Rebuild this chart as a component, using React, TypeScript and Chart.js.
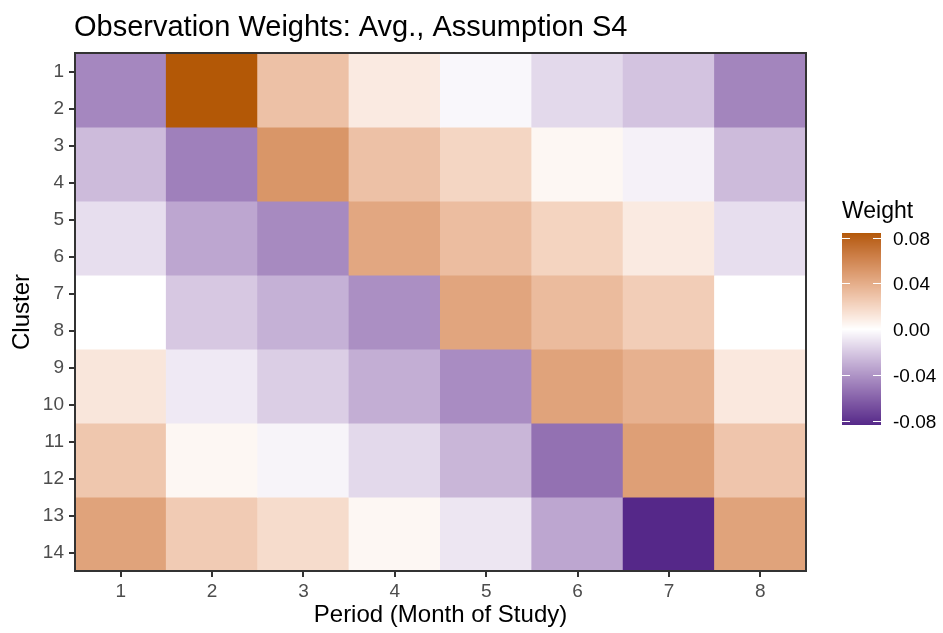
import React, { useEffect, useRef } from "react";
import { Chart, registerables } from "chart.js";

Chart.register(...registerables);

// ---------- data ----------
const titleText = "Observation Weights: Avg., Assumption S4";
const xTitle = "Period (Month of Study)";
const yTitle = "Cluster";
const legendTitle = "Weight";

const periods = ["1", "2", "3", "4", "5", "6", "7", "8"];
const clusterTicks = [1, 2, 3, 4, 5, 6, 7, 8, 9, 10, 11, 12, 13, 14];
const clusterPairs = [
  [1, 2],
  [3, 4],
  [5, 6],
  [7, 8],
  [9, 10],
  [11, 12],
  [13, 14],
];

const w_c01_02 = [-0.045, 0.084, 0.03, 0.01, -0.003, -0.014, -0.022, -0.046];
const w_c03_04 = [-0.025, -0.048, 0.052, 0.03, 0.02, 0.004, -0.005, -0.025];
const w_c05_06 = [-0.012, -0.033, -0.044, 0.043, 0.032, 0.021, 0.01, -0.012];
const w_c07_08 = [0.0, -0.02, -0.029, -0.042, 0.044, 0.033, 0.024, 0.0];
const w_c09_10 = [0.012, -0.008, -0.018, -0.03, -0.043, 0.045, 0.038, 0.011];
const w_c11_12 = [0.027, 0.004, -0.004, -0.014, -0.027, -0.054, 0.047, 0.028];
const w_c13_14 = [0.045, 0.025, 0.017, 0.004, -0.009, -0.033, -0.0835, 0.045];
const weightRows = [w_c01_02, w_c03_04, w_c05_06, w_c07_08, w_c09_10, w_c11_12, w_c13_14];

const legendTicks = [0.08, 0.04, 0.0, -0.04, -0.08];
const legendTickLabels = ["0.08", "0.04", "0.00", "-0.04", "-0.08"];

const lowColor = "#542788";
const midColor = "#ffffff";
const highColor = "#b35806";

// ---------- colour (Lab interpolation like ggplot2 gradient2) ----------
const FONT = '"Liberation Sans", Arial, Helvetica, sans-serif';
const Xn = 0.95047, Yn = 1.0, Zn = 1.08883;
function toLin(c: number) {
  c /= 255;
  return c <= 0.04045 ? c / 12.92 : Math.pow((c + 0.055) / 1.055, 2.4);
}
function fromLin(c: number) {
  const v = c <= 0.0031308 ? 12.92 * c : 1.055 * Math.pow(c, 1 / 2.4) - 0.055;
  return Math.round(Math.max(0, Math.min(1, v)) * 255);
}
function fl(t: number) {
  return t > 0.008856 ? Math.cbrt(t) : 7.787 * t + 16 / 116;
}
function finv(t: number) {
  return t > 0.206893 ? t * t * t : (t - 16 / 116) / 7.787;
}
function hexToLab(hex: string) {
  const r = toLin(parseInt(hex.slice(1, 3), 16));
  const g = toLin(parseInt(hex.slice(3, 5), 16));
  const b = toLin(parseInt(hex.slice(5, 7), 16));
  const X = 0.4124564 * r + 0.3575761 * g + 0.1804375 * b;
  const Y = 0.2126729 * r + 0.7151522 * g + 0.072175 * b;
  const Z = 0.0193339 * r + 0.119192 * g + 0.9503041 * b;
  const fx = fl(X / Xn), fy = fl(Y / Yn), fz = fl(Z / Zn);
  return [116 * fy - 16, 500 * (fx - fy), 200 * (fy - fz)];
}
function labToRgb(L: number, a: number, bb: number) {
  const fy = (L + 16) / 116;
  const fx = fy + a / 500;
  const fz = fy - bb / 200;
  const X = Xn * finv(fx), Y = Yn * finv(fy), Z = Zn * finv(fz);
  const r = 3.2404542 * X - 1.5371385 * Y - 0.4985314 * Z;
  const g = -0.969266 * X + 1.8760108 * Y + 0.041556 * Z;
  const b = 0.0556434 * X - 0.2040259 * Y + 1.0572252 * Z;
  return `rgb(${fromLin(r)},${fromLin(g)},${fromLin(b)})`;
}
const labLow = hexToLab(lowColor);
const labMid = hexToLab(midColor);
const labHigh = hexToLab(highColor);
const allVals = weightRows.flat();
const vMin = Math.min(...allVals);
const vMax = Math.max(...allVals);
const vLimit = Math.max(Math.abs(vMin), Math.abs(vMax));
function colorFor(v: number) {
  const t = Math.max(-1, Math.min(1, v / vLimit));
  const end = t >= 0 ? labHigh : labLow;
  const f = Math.abs(t);
  return labToRgb(
    labMid[0] + (end[0] - labMid[0]) * f,
    labMid[1] + (end[1] - labMid[1]) * f,
    labMid[2] + (end[2] - labMid[2]) * f
  );
}

// ---------- overlay plugin: panel border, title, colourbar legend ----------
const overlayPlugin = {
  id: "overlay",
  afterDraw(chart: any) {
    const ctx = chart.ctx as CanvasRenderingContext2D;
    const { left, top, right, bottom } = chart.chartArea;
    ctx.save();
    // panel border
    ctx.strokeStyle = "#333333";
    ctx.lineWidth = 2;
    ctx.strokeRect(left, top, right - left, bottom - top);

    // title
    ctx.fillStyle = "#000000";
    ctx.font = `29px ${FONT}`;
    ctx.textAlign = "left";
    ctx.textBaseline = "alphabetic";
    ctx.fillText(titleText, left - 1, 35.5);

    // legend
    const barLeft = right + 36;
    const barW = 39;
    const barTop = 233;
    const barBottom = 425;
    const yOf = (v: number) => barTop + ((vMax - v) / (vMax - vMin)) * (barBottom - barTop);
    for (let y = barTop; y < barBottom; y++) {
      const v = vMax - ((y + 0.5 - barTop) / (barBottom - barTop)) * (vMax - vMin);
      ctx.fillStyle = colorFor(v);
      ctx.fillRect(barLeft, y, barW, 1);
    }
    ctx.strokeStyle = "#ffffff";
    ctx.lineWidth = 1;
    ctx.fillStyle = "#000000";
    ctx.font = `19px ${FONT}`;
    ctx.textBaseline = "middle";
    legendTicks.forEach((v, i) => {
      const y = Math.round(yOf(v)) + 0.5;
      ctx.beginPath();
      ctx.moveTo(barLeft, y);
      ctx.lineTo(barLeft + 8, y);
      ctx.moveTo(barLeft + barW - 8, y);
      ctx.lineTo(barLeft + barW, y);
      ctx.stroke();
      ctx.fillText(legendTickLabels[i], barLeft + barW + 12, y + 1);
    });
    ctx.font = `23px ${FONT}`;
    ctx.textBaseline = "alphabetic";
    ctx.fillText(legendTitle, barLeft, 218);
    ctx.restore();
  },
};

export default function App() {
  const canvasRef = useRef<HTMLCanvasElement | null>(null);

  useEffect(() => {
    document.body.style.margin = "0";
    const canvas = canvasRef.current;
    if (!canvas) return;

    const datasets = clusterPairs.map((pair, gi) => ({
      label: `Clusters ${pair[0]}-${pair[1]}`,
      data: periods.map(() => [pair[0] - 0.5, pair[1] + 0.5]),
      backgroundColor: weightRows[gi].map((v) => colorFor(v)),
      borderWidth: 0,
      borderSkipped: false,
      barPercentage: 1,
      categoryPercentage: 1,
      grouped: false,
      inflateAmount: 0.5,
    }));

    const tickFont = { family: FONT, size: 19 };
    const chart = new Chart(canvas, {
      type: "bar",
      data: { labels: periods, datasets: datasets as any },
      options: {
        responsive: false,
        devicePixelRatio: 1,
        animation: false,
        layout: { padding: { left: 0, top: 53, right: 137, bottom: 0 } },
        plugins: {
          legend: { display: false },
          tooltip: { enabled: false },
          title: { display: false },
        },
        scales: {
          x: {
            type: "category",
            offset: true,
            grid: {
              offset: false,
              drawOnChartArea: false,
              tickLength: 6,
              color: "#333333",
              lineWidth: 2,
            },
            border: { display: false },
            ticks: { color: "#4d4d4d", font: tickFont, padding: 3 },
            title: {
              display: true,
              text: xTitle,
              color: "#000000",
              font: { family: FONT, size: 24 },
              padding: { top: 0, bottom: 3 },
            },
            afterFit: (s: any) => {
              s.height = 62;
            },
          },
          y: {
            type: "linear",
            reverse: true,
            min: 0.5,
            max: 14.5,
            afterBuildTicks: (s: any) => {
              s.ticks = clusterTicks.map((v) => ({ value: v }));
            },
            grid: {
              drawOnChartArea: false,
              tickLength: 6,
              color: "#333333",
              lineWidth: 2,
            },
            border: { display: false },
            ticks: {
              color: "#4d4d4d",
              font: tickFont,
              padding: 5,
              autoSkip: false,
              callback: (v: any) => String(v),
            },
            title: {
              display: true,
              text: yTitle,
              color: "#000000",
              font: { family: FONT, size: 24 },
              padding: { top: 8, bottom: 0 },
            },
            afterFit: (s: any) => {
              s.width = 75;
            },
          },
        },
      } as any,
      plugins: [overlayPlugin],
    });

    return () => {
      chart.destroy();
    };
  }, []);

  return (
    <div style={{ width: 943, height: 633 }}>
      <canvas ref={canvasRef} width={943} height={633} style={{ display: "block" }} />
    </div>
  );
}
